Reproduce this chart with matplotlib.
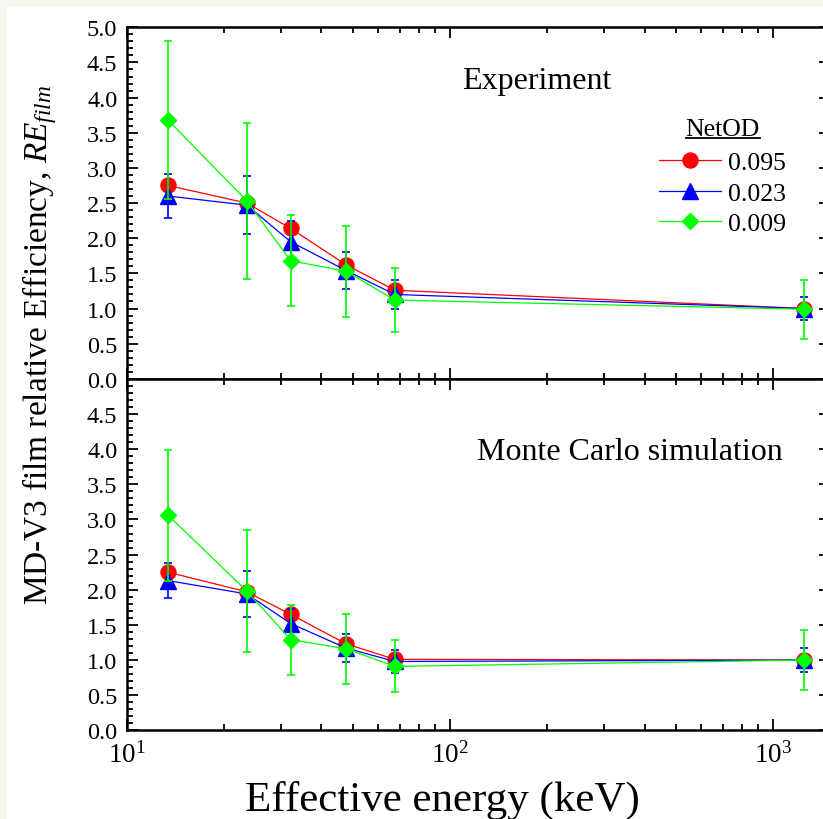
import matplotlib
matplotlib.use("Agg")
import matplotlib.pyplot as plt
from matplotlib.patches import Rectangle
from matplotlib.lines import Line2D
from matplotlib.ticker import MultipleLocator, FixedLocator, LogLocator, NullFormatter

plt.rcParams['font.family'] = 'Liberation Serif'
plt.rcParams['mathtext.fontset'] = 'custom'
plt.rcParams['mathtext.rm'] = 'Liberation Serif'
plt.rcParams['mathtext.it'] = 'Liberation Serif:italic'

# effective energies (keV)
energy = [13.4, 23.5, 32.1, 47.7, 67.5, 1250]

netod_labels = ['0.095', '0.023', '0.009']

# experiment
exp_red = [2.75, 2.50, 2.14, 1.62, 1.26, 1.00]
exp_red_err = [0.08, 0.08, 0.08, 0.08, 0.08, 0.05]
exp_blue = [2.60, 2.47, 1.95, 1.54, 1.20, 1.00]
exp_blue_err = [0.31, 0.41, 0.30, 0.26, 0.20, 0.17]
exp_green = [3.68, 2.53, 1.68, 1.53, 1.12, 0.99]
exp_green_err = [1.12, 1.11, 0.65, 0.65, 0.46, 0.42]

# monte carlo
mc_red = [2.25, 1.97, 1.65, 1.23, 1.01, 1.00]
mc_red_err = [0.08, 0.08, 0.08, 0.08, 0.06, 0.05]
mc_blue = [2.13, 1.94, 1.52, 1.17, 0.98, 1.00]
mc_blue_err = [0.25, 0.33, 0.21, 0.20, 0.165, 0.17]
mc_green = [3.06, 1.98, 1.29, 1.16, 0.91, 1.00]
mc_green_err = [0.93, 0.87, 0.50, 0.50, 0.37, 0.43]

colors = ['#ff0000', '#0000ff', '#00ff00']
markers = ['o', '^', 'D']
msizes = [10.8, 11.5, 8.6]

fig = plt.figure(figsize=(8.23, 8.20), dpi=100)
fig.patch.set_facecolor('#f7f7f0')
fig.patches.append(Rectangle((7 / 823, 0), 1, 1 - 8 / 820, transform=fig.transFigure,
                             facecolor='white', edgecolor='none', zorder=-10))

left = 127 / 823
width = (830 - 127) / 823
h = 0.4287
ax_top = fig.add_axes([left, 1 - 28.3 / 820 - h, width, h])
ax_bot = fig.add_axes([left, 1 - 28.3 / 820 - 2 * h, width, h])


def draw_panel(ax, ys, errs):
    lines = []
    for i, (y, e) in enumerate(zip(ys, errs)):
        z = 3 + i
        ax.errorbar(energy, y, yerr=e, fmt='none', ecolor=colors[i], elinewidth=1.2,
                    capsize=3, capthick=1.2, zorder=z)
        ln, = ax.plot(energy, y, color=colors[i], lw=0.9, marker=markers[i],
                      ms=msizes[i], mec=colors[i], mfc=colors[i], zorder=z,
                      label=netod_labels[i])
        lines.append(ln)
    ax.set_xscale('log')
    ax.set_xlim(10, 1500)
    ax.set_ylim(0, 5)
    ax.yaxis.set_major_locator(FixedLocator([0, 0.5, 1, 1.5, 2, 2.5, 3, 3.5, 4, 4.5, 5]))
    ax.yaxis.set_minor_locator(MultipleLocator(0.1))
    ax.xaxis.set_major_locator(LogLocator(base=10, numticks=10))
    ax.xaxis.set_minor_locator(LogLocator(base=10, subs=range(2, 10), numticks=20))
    ax.xaxis.set_minor_formatter(NullFormatter())
    ax.tick_params(which='both', direction='in', top=True, right=True, width=1.3)
    ax.tick_params(axis='y', labelsize=17.5, pad=7)
    ax.tick_params(axis='x', labelsize=19.5, pad=8)
    ax.tick_params(which='major', length=8)
    ax.tick_params(which='minor', length=4.5)
    for s in ax.spines.values():
        s.set_linewidth(1.8)
    return lines


handles = draw_panel(ax_top, [exp_red, exp_blue, exp_green],
                     [exp_red_err, exp_blue_err, exp_green_err])
draw_panel(ax_bot, [mc_red, mc_blue, mc_green],
           [mc_red_err, mc_blue_err, mc_green_err])

ytl = ['%.1f' % v for v in [0, 0.5, 1, 1.5, 2, 2.5, 3, 3.5, 4, 4.5, 5]]
ax_top.tick_params(axis='x', labelbottom=False)
ax_top.set_yticklabels(ytl)
ax_bot.set_yticklabels(ytl[:-1] + [''])

fig.text(537 / 823, 1 - 82 / 820, 'Experiment', fontsize=23, ha='center', va='center')
fig.text(630 / 823, 1 - 452 / 820, 'Monte Carlo simulation', fontsize=23,
         ha='center', va='center')

leg = ax_top.legend(handles=handles, title='NetOD',
                    frameon=False, fontsize=18.5, title_fontsize=18.5,
                    handlelength=2.4, handletextpad=0.3, labelspacing=0.29,
                    numpoints=1, loc='upper left',
                    bbox_to_anchor=(659 / 823, 1 - 119 / 820),
                    bbox_transform=fig.transFigure, borderpad=0, borderaxespad=0)
leg._legend_box.sep = 8

fig.text(40 / 823, 1 - 345 / 820,
         r'MD-V3 film relative Efficiency, $\mathit{RE}_{\mathit{film}}$',
         rotation=90, fontsize=24, ha='center', va='center')
fig.text(442 / 823, 1 - 800 / 820, 'Effective energy (keV)', fontsize=31,
         ha='center', va='center')

# underline the legend title
fig.canvas.draw()
bb = leg.get_title().get_window_extent().transformed(fig.transFigure.inverted())
fig.add_artist(Line2D([bb.x0, bb.x1], [bb.y0 + 0.003, bb.y0 + 0.003],
                      transform=fig.transFigure, color='black', lw=1.3))

fig.savefig('out.png', dpi=100, facecolor=fig.get_facecolor())
